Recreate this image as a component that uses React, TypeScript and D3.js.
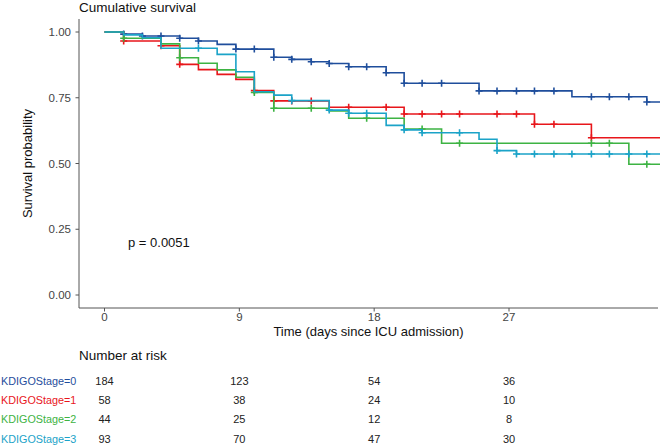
import React from "react";
import * as d3 from "d3";

const groupNames = ["KDIGOStage=0", "KDIGOStage=1", "KDIGOStage=2", "KDIGOStage=3"];
const groupColors = ["#1F4E9C", "#E8161B", "#3DB343", "#1BA3C8"];

const times0 = [0, 1.28, 2.53, 5.02, 6.27, 7.52, 8.77, 11.3, 12.5, 13.8, 15.0, 16.3, 18.8, 20.0, 25.0, 31.2, 36.2];
const surv0 = [1, 0.992, 0.985, 0.976, 0.966, 0.953, 0.935, 0.904, 0.896, 0.887, 0.88, 0.868, 0.845, 0.805, 0.776, 0.754, 0.734];
const censor0 = [1.28, 2.53, 3.77, 5.02, 6.27, 8.77, 10.0, 11.3, 12.5, 13.8, 15.0, 16.3, 17.5, 18.8, 20.0, 21.2, 22.5, 25.0, 26.2, 27.5, 28.7, 30.0, 32.5, 33.7, 35.0, 36.2];

const times1 = [0, 1.28, 3.77, 5.02, 6.27, 7.52, 8.77, 10.0, 11.3, 15.0, 20.0, 28.7, 32.5];
const surv1 = [1, 0.966, 0.948, 0.877, 0.857, 0.839, 0.82, 0.777, 0.738, 0.714, 0.688, 0.649, 0.598];
const censor1 = [1.28, 3.77, 5.02, 10.0, 11.3, 12.5, 13.8, 16.3, 18.8, 20.0, 21.2, 22.5, 23.7, 26.2, 27.5, 28.7, 30.0, 32.5];

const times2 = [0, 1.28, 3.77, 5.02, 6.27, 7.52, 8.77, 10.0, 11.3, 15.0, 16.3, 20.0, 22.5, 35.0];
const surv2 = [1, 0.976, 0.955, 0.902, 0.881, 0.856, 0.828, 0.77, 0.71, 0.7, 0.672, 0.631, 0.577, 0.497];
const censor2 = [1.28, 5.02, 10.0, 11.3, 13.8, 17.5, 21.2, 23.7, 32.5, 33.7, 36.2];

const times3 = [0, 1.28, 2.53, 3.77, 7.52, 8.77, 10.0, 11.3, 12.5, 15.0, 16.3, 18.8, 20.0, 21.2, 25.0, 26.2, 27.5];
const surv3 = [1, 0.989, 0.978, 0.938, 0.915, 0.849, 0.773, 0.76, 0.739, 0.703, 0.691, 0.645, 0.628, 0.617, 0.592, 0.549, 0.536];
const censor3 = [6.27, 12.5, 15.0, 16.3, 17.5, 20.0, 21.2, 23.7, 26.2, 27.5, 28.7, 30.0, 31.2, 32.5, 33.7, 35.0, 36.2];

const endTime = 38;
const xTicks = [0, 9, 18, 27];
const yTicks = [0, 0.25, 0.5, 0.75, 1];

const risk0 = [184, 123, 54, 36];
const risk1 = [58, 38, 24, 10];
const risk2 = [44, 25, 12, 8];
const risk3 = [93, 70, 47, 30];

const pValueText = "p = 0.0051";
const titleText = "Cumulative survival";
const xTitle = "Time (days since ICU admission)";
const yTitle = "Survival probability";
const riskTitle = "Number at risk";

const FONT = "'Liberation Sans', Arial, sans-serif";

export default function App() {
  const W = 660, H = 448;
  const panelLeft = 79, panelRight = 658, panelTop = 19, panelBottom = 308;
  const x = d3.scaleLinear().domain([0, 27]).range([104.5, 509]);
  const y = d3.scaleLinear().domain([0, 1]).range([295, 32]);

  const groups = [
    { t: times0, s: surv0, c: censor0, r: risk0 },
    { t: times1, s: surv1, c: censor1, r: risk1 },
    { t: times2, s: surv2, c: censor2, r: risk2 },
    { t: times3, s: surv3, c: censor3, r: risk3 },
  ];

  const line = d3
    .line<[number, number]>()
    .x((d) => x(d[0]))
    .y((d) => y(d[1]))
    .curve(d3.curveStepAfter);

  const survAt = (t: number[], s: number[], time: number) => {
    let v = s[0];
    for (let i = 0; i < t.length; i++) if (t[i] <= time) v = s[i];
    return v;
  };

  const riskRowY = [381, 400, 419.5, 439];
  const m = 3.5;

  return (
    <svg width={W} height={H} style={{ position: "absolute", left: 0, top: 0, background: "#fff" }} fontFamily={FONT}>
      <defs>
        <clipPath id="panel">
          <rect x={panelLeft} y={panelTop - 5} width={panelRight - panelLeft + 2} height={panelBottom - panelTop + 5} />
        </clipPath>
      </defs>
      <text x={79} y={12} fontSize={13.5} fill="#111">{titleText}</text>

      <line x1={panelLeft} x2={panelLeft} y1={panelTop} y2={panelBottom} stroke="#555" strokeWidth={1} />
      <line x1={panelLeft} x2={panelRight} y1={panelBottom} y2={panelBottom} stroke="#555" strokeWidth={1} />
      {yTicks.map((v) => (
        <g key={"y" + v}>
          <line x1={panelLeft - 3.5} x2={panelLeft} y1={y(v)} y2={y(v)} stroke="#555" />
          <text x={71} y={y(v)} dy="0.35em" textAnchor="end" fontSize={11.5} fill="#444">
            {v.toFixed(2)}
          </text>
        </g>
      ))}
      {xTicks.map((v) => (
        <g key={"x" + v}>
          <line x1={x(v)} x2={x(v)} y1={panelBottom} y2={panelBottom + 3.5} stroke="#555" />
          <text x={x(v)} y={317} dy="0.35em" textAnchor="middle" fontSize={11.5} fill="#444">
            {v}
          </text>
        </g>
      ))}
      <text x={(panelLeft + panelRight) / 2} y={331} dy="0.35em" textAnchor="middle" fontSize={13} fill="#111">
        {xTitle}
      </text>
      <text transform={`translate(27,${(panelTop + panelBottom) / 2}) rotate(-90)`} textAnchor="middle" dy="0.35em" fontSize={13} fill="#111">
        {yTitle}
      </text>

      <g clipPath="url(#panel)">
        {groups.map((g, gi) => {
          const pts: [number, number][] = g.t.map((t, i) => [t, g.s[i]] as [number, number]);
          pts.push([endTime, g.s[g.s.length - 1]]);
          return (
            <g key={"g" + gi}>
              <path d={line(pts) || ""} fill="none" stroke={groupColors[gi]} strokeWidth={1.6} />
              {g.c.map((ct, ci) => {
                const cx = x(ct), cy = y(survAt(g.t, g.s, ct));
                return (
                  <path key={ci} d={`M${cx - m},${cy}H${cx + m}M${cx},${cy - m}V${cy + m}`} stroke={groupColors[gi]} strokeWidth={1.6} />
                );
              })}
            </g>
          );
        })}
      </g>

      <text x={128} y={y(0.2)} dy="0.35em" fontSize={13} fill="#111">{pValueText}</text>

      <text x={79} y={355} dy="0.35em" fontSize={13.5} fill="#111">{riskTitle}</text>
      {groups.map((g, gi) => (
        <g key={"r" + gi}>
          <text x={1} y={riskRowY[gi]} dy="0.35em" fontSize={10.8} fill={groupColors[gi]}>
            {groupNames[gi]}
          </text>
          {g.r.map((n, i) => (
            <text key={i} x={x(xTicks[i])} y={riskRowY[gi]} dy="0.35em" textAnchor="middle" fontSize={11} fill="#222">
              {n}
            </text>
          ))}
        </g>
      ))}
    </svg>
  );
}
